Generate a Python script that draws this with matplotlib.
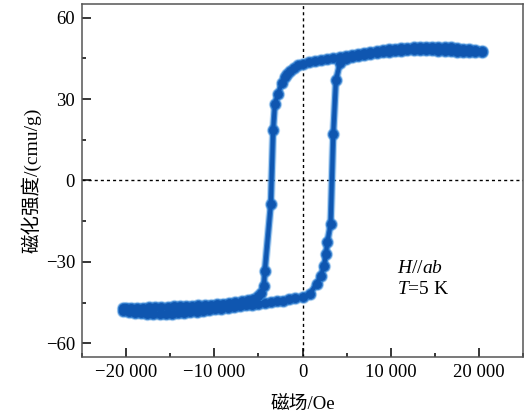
import matplotlib
matplotlib.use("Agg")
import matplotlib.pyplot as plt
from matplotlib.ticker import MultipleLocator, FuncFormatter

plt.rcParams['font.family'] = ['Liberation Serif', 'Noto Sans CJK SC']
plt.rcParams['mathtext.fontset'] = 'custom'
plt.rcParams['mathtext.rm'] = 'Liberation Serif'
plt.rcParams['mathtext.it'] = 'Liberation Serif:italic'

# Descending field sweep (Oe) and magnetization (emu/g)
h_down = [20300, 19600, 18900, 18200, 17500, 16800, 16100, 15400, 14700, 14000,
          13300, 12600, 11900, 11200, 10500, 9800, 9100, 8400, 7700, 7000,
          6300, 5600, 4900, 4200, 3500, 2800, 2100, 1400, 700, 0,
          -500, -1000, -1430, -1750, -2000, -2370, -2760, -3130, -3330, -3590,
          -4270, -4380, -4700, -5100, -5600, -6200, -6900, -7600, -8300,
          -9000, -9700, -10400, -11100, -11800, -12500, -13200, -13900,
          -14600, -15300, -16000, -16700, -17400, -18100, -18800, -19500,
          -20000, -20400]
m_down = [47.8, 48.1, 48.4, 48.6, 48.8, 49.0, 49.1, 49.2, 49.2, 49.2,
          49.1, 49.0, 48.9, 48.7, 48.5, 48.3, 48.0, 47.7, 47.4, 47.1,
          46.7, 46.3, 45.9, 45.5, 45.1, 44.7, 44.3, 43.9, 43.5, 43.0,
          42.4, 41.6, 40.4, 39.3, 38.1, 35.8, 32.0, 28.3, 18.5, -8.6,
          -33.2, -38.7, -41.4, -42.7, -43.5, -44.1, -44.5, -44.8, -45.1,
          -45.3, -45.5, -45.7, -45.9, -46.0, -46.1, -46.2, -46.3,
          -46.4, -46.5, -46.6, -46.7, -46.7, -46.8, -46.8, -46.9,
          -46.9, -47.0]

# Ascending field sweep (Oe) and magnetization (emu/g)
h_up = [-20400, -19700, -19000, -18300, -17600, -16900, -16200, -15500, -14800,
        -14100, -13400, -12700, -12000, -11300, -10600, -9900, -9200, -8500,
        -7800, -7100, -6400, -5700, -5000, -4300, -3600, -2900, -2200,
        -1500, -800, 0, 840, 1600, 2100, 2450, 2660, 2810, 3190, 3490,
        3790, 4250, 4900, 5600, 6300, 7000, 7700, 8400, 9100, 9800,
        10500, 11200, 11900, 12600, 13300, 14000, 14700, 15400, 16100,
        16800, 17500, 18200, 18900, 19600, 20300]
m_up = [-48.0, -48.4, -48.7, -48.9, -49.0, -49.1, -49.1, -49.1, -49.0,
        -48.9, -48.7, -48.5, -48.3, -48.1, -47.8, -47.5, -47.2, -46.9,
        -46.6, -46.3, -46.0, -45.7, -45.4, -45.1, -44.8, -44.5, -44.2,
        -43.8, -43.4, -43.0, -41.7, -38.0, -35.0, -31.5, -27.1, -22.8, -16.0, 17.2,
        36.9, 43.2, 44.6, 45.3, 45.8, 46.2, 46.6, 46.9, 47.2, 47.4,
        47.6, 47.8, 47.9, 48.0, 48.0, 48.0, 47.9, 47.8, 47.7,
        47.6, 47.5, 47.4, 47.3, 47.3, 47.3]

x_ticks = [-20000, -10000, 0, 10000, 20000]
y_ticks = [-60, -30, 0, 30, 60]

fig = plt.figure(figsize=(5.26, 4.17), dpi=100)
ax = fig.add_axes([0.1559, 0.1439, 0.8384, 0.8465])

ax.axhline(0, color='black', lw=1.0, ls=(0, (2.2, 2.2)), zorder=1)
ax.axvline(0, color='black', lw=1.0, ls=(0, (2.2, 2.2)), zorder=1)

h_loop = h_down + h_up
m_loop = m_down + m_up
# layered strokes give the trace its soft edge
ax.plot(h_loop, m_loop, color='#6aaae6', lw=6.0, marker='o', ms=9.6,
        mec='none', alpha=0.45, zorder=2)
ax.plot(h_loop, m_loop, color='#2a78cc', lw=4.4, marker='o', ms=8.2,
        mec='none', alpha=0.85, zorder=3)
ax.plot(h_loop, m_loop, color='#0f56b0', lw=2.8, marker='o', ms=6.4,
        mec='none', zorder=4)

ax.set_xlim(-25000, 25000)
ax.set_ylim(-65, 65)
ax.set_xticks(x_ticks)
ax.set_yticks(y_ticks)
ax.xaxis.set_minor_locator(MultipleLocator(5000))
ax.yaxis.set_minor_locator(MultipleLocator(15))


def fmt_thousands(v, pos):
    s = f"{abs(int(round(v))):,}".replace(",", " ")
    return ("\u2212" + s) if v < 0 else s


ax.xaxis.set_major_formatter(FuncFormatter(fmt_thousands))
ax.yaxis.set_major_formatter(FuncFormatter(lambda v, p: ("\u2212" if v < 0 else "") + str(abs(int(v)))))

ax.tick_params(axis='both', which='major', direction='in', length=6.5, width=1.1,
               labelsize=13.5, top=False, right=False, pad=5)
ax.tick_params(axis='both', which='minor', direction='in', length=3.2, width=1.1,
               top=False, right=False)
for sp in ax.spines.values():
    sp.set_color('#555555')
    sp.set_linewidth(1.1)

ax.set_xlabel('磁场/Oe', fontsize=13.5, labelpad=11)
ax.set_ylabel('磁化强度/(cmu/g)', fontsize=14, labelpad=3)

ax.text(0.714, 0.252, r'$H//ab$', transform=ax.transAxes, fontsize=14, va='center')
ax.text(0.714, 0.19, r'$T$=5 K', transform=ax.transAxes, fontsize=14, va='center')

fig.savefig('out.png', dpi=100)
